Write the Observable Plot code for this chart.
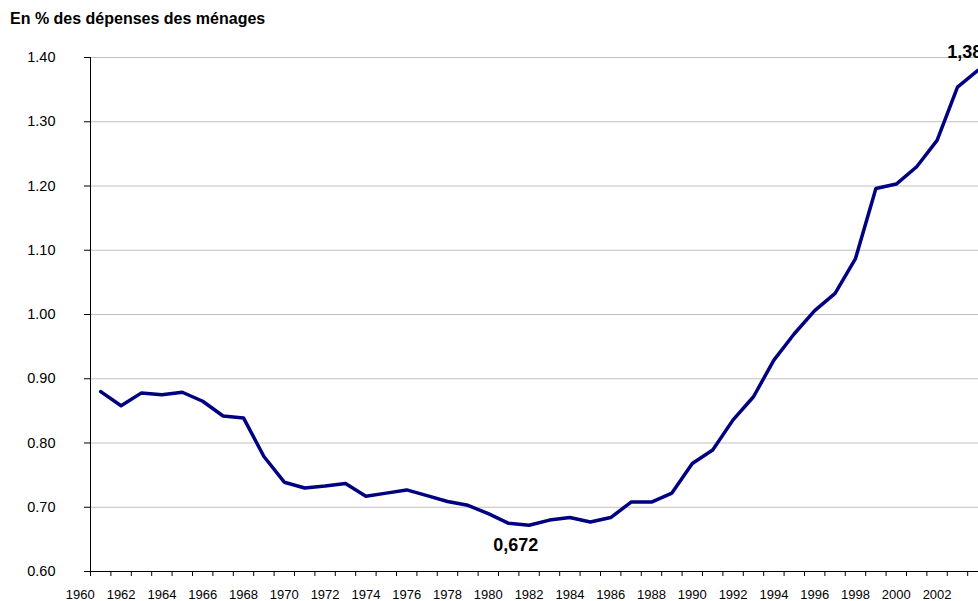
<!DOCTYPE html>
<html><head><meta charset="utf-8">
<script src="https://cdn.jsdelivr.net/npm/d3@7"></script>
<script src="https://cdn.jsdelivr.net/npm/@observablehq/plot@0.6"></script>
<style>
html,body{margin:0;padding:0;background:#fff;overflow:hidden}
body{font-family:"Liberation Sans",Arial,sans-serif;width:978px;height:601px}
#title{height:34px;box-sizing:border-box;padding:10px 0 0 10px;font-weight:bold;font-size:16px;line-height:18px;color:#000;white-space:nowrap}
</style></head><body>
<div id="title">En % des dépenses des ménages</div>
<div id="chart"></div>
<script>
const years = [1961,1962,1963,1964,1965,1966,1967,1968,1969,1970,1971,1972,1973,1974,1975,1976,1977,1978,1979,1980,1981,1982,1983,1984,1985,1986,1987,1988,1989,1990,1991,1992,1993,1994,1995,1996,1997,1998,1999,2000,2001,2002,2003,2004];
const values = [0.880,0.858,0.878,0.875,0.879,0.865,0.842,0.839,0.779,0.739,0.730,0.733,0.737,0.717,0.722,0.727,0.718,0.709,0.703,0.690,0.675,0.672,0.680,0.684,0.677,0.684,0.708,0.708,0.722,0.768,0.789,0.836,0.872,0.929,0.970,1.006,1.033,1.087,1.196,1.203,1.230,1.271,1.354,1.380];
const yTicks = [0.6,0.7,0.8,0.9,1.0,1.1,1.2,1.3,1.4];
const xLabels = [1960,1962,1964,1966,1968,1970,1972,1974,1976,1978,1980,1982,1984,1986,1988,1990,1992,1994,1996,1998,2000,2002];
const xTickMarks = [1960.5,1961.5,1962.5,1963.5,1964.5,1965.5,1966.5,1967.5,1968.5,1969.5,1970.5,1971.5,1972.5,1973.5,1974.5,1975.5,1976.5,1977.5,1978.5,1979.5,1980.5,1981.5,1982.5,1983.5,1984.5,1985.5,1986.5,1987.5,1988.5,1989.5,1990.5,1991.5,1992.5,1993.5,1994.5,1995.5,1996.5,1997.5,1998.5,1999.5,2000.5,2001.5,2002.5,2003.5];
const annoMin = [{year:1981.35, value:0.672, label:"0,672"}];
const annoMax = [{year:2002.5, value:1.40, label:"1,38"}];

const data = years.map((y,i)=>({year:y, value:values[i]}));
const font = "Liberation Sans, Arial, sans-serif";
const chart = Plot.plot({
  width:978, height:567,
  marginTop:23, marginBottom:30, marginLeft:90, marginRight:0,
  style:{fontFamily:font, background:"#fff", color:"#000"},
  x:{domain:[1960.5, 2004.03], axis:null},
  y:{domain:[0.6,1.4], axis:null},
  marks:[
    Plot.ruleY(yTicks.filter(d=>d>0.6), {stroke:"#c0c0c0", strokeWidth:1}),
    Plot.axisY({ticks:yTicks, label:null, tickSize:6, tickPadding:29, fontSize:14.5, tickFormat:d=>d.toFixed(2), stroke:"#000", strokeOpacity:1}),
    Plot.axisX({ticks:xTickMarks, label:null, tickSize:5, tickFormat:()=>"", stroke:"#000", strokeOpacity:1}),
    Plot.axisX({ticks:xLabels, label:null, tickSize:0, tickPadding:18, fontSize:13, tickFormat:d=>String(d)}),
    Plot.ruleX([1960.5], {stroke:"#000"}),
    Plot.ruleY([0.6], {stroke:"#000"}),
    Plot.line(data, {x:"year", y:"value", stroke:"#000080", strokeWidth:3.5}),
    Plot.text(annoMin, {x:"year", y:"value", text:"label", dy:20, fontSize:18, fontWeight:"bold", fill:"#000"}),
    Plot.text(annoMax, {x:"year", y:"value", text:"label", textAnchor:"start", lineAnchor:"bottom", fontSize:18, fontWeight:"bold", fill:"#000"})
  ]
});
document.getElementById("chart").appendChild(chart);
</script>
</body></html>
